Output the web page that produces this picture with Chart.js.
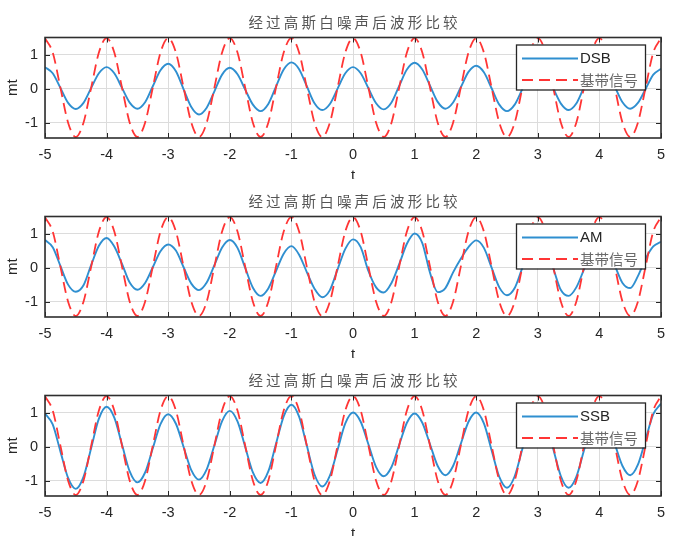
<!DOCTYPE html>
<html><head><meta charset="utf-8">
<script src="https://cdn.jsdelivr.net/npm/chart.js@4.4.1/dist/chart.umd.min.js"></script>
<style>
html,body{margin:0;padding:0;background:#fff;width:693px;height:536px;overflow:hidden;}
.box{position:absolute;left:0;width:693px;height:179px;}
</style></head><body>
<div class="box" style="top:0px"><canvas id="c0" width="693" height="179"></canvas></div>
<div class="box" style="top:179px"><canvas id="c1" width="693" height="179"></canvas></div>
<div class="box" style="top:358px"><canvas id="c2" width="693" height="179"></canvas></div>
<script>
// ---- data ----
const tStart = -5, tStep = 0.125, nSamples = 81;
const xTicks = [-5,-4,-3,-2,-1,0,1,2,3,4,5];
const yTicks = [-1,0,1];
const yMin = -1.45, yMax = 1.5;
const titleText = '经过高斯白噪声后波形比较';
const xLabel = 't';
const yLabel = 'mt';
const seriesNames = ['DSB','AM','SSB'];
const baseName = '基带信号';

const dsb = [0.63,0.45,0.02,-0.42,
-0.60,-0.42,0.02,0.45,
0.63,0.45,0.02,-0.41,
-0.59,-0.40,0.07,0.54,
0.73,0.51,-0.02,-0.54,
-0.76,-0.56,-0.08,0.41,
0.61,0.42,-0.03,-0.47,
-0.66,-0.45,0.06,0.56,
0.77,0.57,0.07,-0.43,
-0.63,-0.45,0.00,0.45,
0.63,0.45,0.01,-0.43,
-0.61,-0.41,0.08,0.56,
0.76,0.56,0.09,-0.39,
-0.59,-0.41,0.04,0.49,
0.67,0.48,0.01,-0.47,
-0.66,-0.47,-0.01,0.46,
0.65,0.46,0.01,-0.44,
-0.63,-0.44,0.04,0.50,
0.70,0.51,0.06,-0.40,
-0.59,-0.42,-0.01,0.41,
0.58];

const am = [0.81,0.60,0.05,-0.50,
-0.71,-0.52,0.08,0.64,
0.87,0.62,0.11,-0.44,
-0.65,-0.45,0.01,0.48,
0.68,0.50,0.01,-0.47,
-0.66,-0.44,0.07,0.59,
0.81,0.58,-0.01,-0.59,
-0.83,-0.61,-0.10,0.41,
0.63,0.38,-0.13,-0.62,
-0.87,-0.66,-0.05,0.55,
0.83,0.60,-0.10,-0.58,
-0.73,-0.45,0.10,0.70,
1.00,0.72,-0.15,-0.72,
-0.60,-0.14,0.26,0.60,
0.80,0.58,0.00,-0.58,
-0.81,-0.60,0.00,0.56,
0.80,0.58,-0.02,-0.66,
-0.83,-0.58,-0.05,0.50,
0.75,0.55,0.06,-0.45,
-0.60,-0.25,0.26,0.62,
0.76];

const ssb = [0.97,0.65,-0.14,-0.92,
-1.24,-0.89,-0.04,0.82,
1.17,0.85,0.06,-0.73,
-1.05,-0.76,-0.05,0.66,
0.95,0.67,-0.01,-0.69,
-0.97,-0.67,0.04,0.75,
1.05,0.74,-0.01,-0.76,
-1.07,-0.73,0.08,0.89,
1.23,0.88,0.03,-0.82,
-1.17,-0.85,-0.09,0.68,
1.00,0.73,0.07,-0.60,
-0.87,-0.60,0.05,0.70,
0.97,0.70,0.07,-0.57,
-0.84,-0.57,0.08,0.73,
1.00,0.68,-0.11,-0.89,
-1.21,-0.87,-0.06,0.76,
1.10,0.76,-0.06,-0.87,
-1.21,-0.89,-0.11,0.68,
1.00,0.73,0.08,-0.57,
-0.84,-0.53,0.21,0.95,
1.26];

const baseband = [1.48,1.06,0.03,-1.00,-1.42,-1.00,0.03,1.06,
1.48,1.06,0.03,-1.00,-1.42,-1.00,0.03,1.06,
1.48,1.06,0.03,-1.00,-1.42,-1.00,0.03,1.06,
1.48,1.06,0.03,-1.00,-1.42,-1.00,0.03,1.06,
1.48,1.06,0.03,-1.00,-1.42,-1.00,0.03,1.06,
1.48,1.06,0.03,-1.00,-1.42,-1.00,0.03,1.06,
1.48,1.06,0.03,-1.00,-1.42,-1.00,0.03,1.06,
1.48,1.06,0.03,-1.00,-1.42,-1.00,0.03,1.06,
1.48,1.06,0.03,-1.00,-1.42,-1.00,0.03,1.06,
1.48,1.06,0.03,-1.00,-1.42,-1.00,0.03,1.06,
1.48];

const blueSeries = [dsb, am, ssb];

// ---- styling ----
const BLUE = '#2f8fd0';
const RED = '#ff3535';
const AXIS = '#262626';
const GRID = '#dcdcdc';
const LATIN = "'Liberation Sans', Arial, sans-serif";
const CJK = "'Noto Sans CJK SC', sans-serif";
const RED_DASH = [11, 6];

const tValues = Array.from({length: nSamples}, (_, i) => tStart + i * tStep);
const toPoints = arr => arr.map((y, i) => ({x: tValues[i], y}));

const deco = {
  id: 'deco',
  afterDatasetsDraw(chart) {
    const {ctx, chartArea: a} = chart;
    const xs = chart.scales.x, ys = chart.scales.y;
    ctx.save();
    // inner ticks
    ctx.strokeStyle = AXIS; ctx.lineWidth = 1;
    ctx.beginPath();
    xTicks.forEach(v => {
      const px = Math.round(xs.getPixelForValue(v)) + 0.5;
      ctx.moveTo(px, a.bottom); ctx.lineTo(px, a.bottom - 5);
      ctx.moveTo(px, a.top); ctx.lineTo(px, a.top + 5);
    });
    yTicks.forEach(v => {
      const py = Math.round(ys.getPixelForValue(v)) + 0.5;
      ctx.moveTo(a.left, py); ctx.lineTo(a.left + 5, py);
      ctx.moveTo(a.right, py); ctx.lineTo(a.right - 5, py);
    });
    ctx.stroke();
    // border
    ctx.lineWidth = 1.6; ctx.strokeStyle = '#2e2e2e';
    ctx.strokeRect(a.left, a.top, a.right - a.left, a.bottom - a.top);

    // legend
    const ds = chart.data.datasets;
    const bx = a.right - 145, by = a.top + 7, bw = 129, bh = 45;
    ctx.fillStyle = '#fff';
    ctx.fillRect(bx, by, bw, bh);
    ctx.lineWidth = 1.3; ctx.strokeStyle = AXIS;
    ctx.strokeRect(bx + 0.5, by + 0.5, bw, bh);
    const rows = [by + 14, by + 35.5];
    ds.forEach((d, i) => {
      const y = rows[i];
      ctx.beginPath();
      ctx.setLineDash(d.borderDash || []);
      ctx.lineWidth = d.borderWidth;
      ctx.strokeStyle = d.borderColor;
      ctx.moveTo(bx + 6, y); ctx.lineTo(bx + 62, y);
      ctx.stroke();
      ctx.setLineDash([]);
      ctx.textBaseline = 'middle'; ctx.textAlign = 'left';
      if (i === 0) { ctx.fillStyle = AXIS; ctx.font = '15px ' + LATIN; }
      else { ctx.fillStyle = '#6a6a6a'; ctx.font = '14.5px ' + CJK; }
      ctx.fillText(d.label, bx + 64, y + 0.5);
    });

    // title (spaced characters)
    ctx.font = '14.5px ' + CJK;
    ctx.fillStyle = '#555';
    ctx.textBaseline = 'middle'; ctx.textAlign = 'left';
    const chars = Array.from(titleText);
    const sp = 3.2;
    const widths = chars.map(c => ctx.measureText(c).width);
    const total = widths.reduce((s, w) => s + w, 0) + sp * (chars.length - 1);
    let cx = (a.left + a.right) / 2 - total / 2;
    const ty = a.top - 15;
    chars.forEach((c, i) => { ctx.fillText(c, cx, ty); cx += widths[i] + sp; });

    // axis labels
    ctx.fillStyle = AXIS;
    ctx.font = '15px ' + LATIN;
    ctx.textAlign = 'center';
    ctx.fillText(xLabel, (a.left + a.right) / 2, a.bottom + 38);
    ctx.save();
    ctx.translate(13, (a.top + a.bottom) / 2);
    ctx.rotate(-Math.PI / 2);
    ctx.fillText(yLabel, 0, 0);
    ctx.restore();
    ctx.restore();
  }
};

function makeChart(idx) {
  const ctx = document.getElementById('c' + idx);
  return new Chart(ctx, {
    type: 'line',
    data: {
      datasets: [
        {label: seriesNames[idx], data: toPoints(blueSeries[idx]), borderColor: BLUE, borderWidth: 1.9,
         pointRadius: 0, cubicInterpolationMode: 'monotone', fill: false, order: 2, clip: 0},
        {label: baseName, data: toPoints(baseband), borderColor: RED, borderWidth: 1.8, borderDash: RED_DASH,
         pointRadius: 0, cubicInterpolationMode: 'monotone', fill: false, order: 1, clip: 0}
      ]
    },
    options: {
      responsive: false, maintainAspectRatio: false, animation: false,
      devicePixelRatio: 1,
      layout: {padding: {top: 37.5, right: 32, left: 0, bottom: 0}},
      plugins: {legend: {display: false}, tooltip: {enabled: false}, title: {display: false}},
      scales: {
        x: {
          type: 'linear', min: -5, max: 5,
          afterBuildTicks: ax => { ax.ticks = xTicks.map(v => ({value: v})); },
          afterFit: ax => { ax.height = 41; },
          grid: {color: GRID, lineWidth: 1, drawTicks: false},
          border: {display: false},
          ticks: {color: AXIS, font: {family: LATIN, size: 14.5}, padding: 8, maxRotation: 0, autoSkip: false,
                  callback: v => String(v)}
        },
        y: {
          type: 'linear', min: yMin, max: yMax,
          afterBuildTicks: ax => { ax.ticks = yTicks.map(v => ({value: v})); },
          afterFit: ax => { ax.width = 45; },
          grid: {color: GRID, lineWidth: 1, drawTicks: false},
          border: {display: false},
          ticks: {color: AXIS, font: {family: LATIN, size: 14.5}, padding: 7, callback: v => String(v)}
        }
      }
    },
    plugins: [deco]
  });
}
[0, 1, 2].forEach(makeChart);
</script>
</body></html>
